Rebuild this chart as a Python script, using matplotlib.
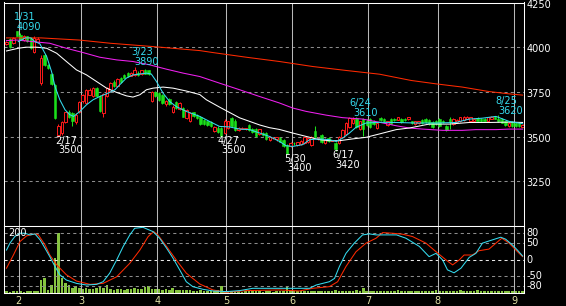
import matplotlib
matplotlib.use('Agg')
import matplotlib.pyplot as plt
import numpy as np
from matplotlib.transforms import blended_transform_factory

# ---------------- data (trading-day index 0 = 2022-01-26) ----------------
opens = [4020, 4045, 4025, 4090, 4070, 4040, 4060, 4050, 3975, 4030,
         3800, 3955, 3900, 3850, 3790, 3510, 3520, 3580, 3640, 3630,
         3580, 3635, 3700, 3690, 3735, 3725, 3770, 3725, 3630, 3725,
         3755, 3808, 3785, 3828, 3845, 3855, 3840, 3842, 3858, 3850,
         3872, 3870, 3700, 3750, 3745, 3730, 3680, 3710, 3640, 3695,
         3655, 3660, 3605, 3585, 3635, 3620, 3612, 3595, 3585, 3580,
         3530, 3550, 3548, 3522, 3550, 3605, 3590, 3535, 3545, 3545,
         3565, 3545, 3545, 3512, 3520, 3522, 3480, 3492, 3485, 3490,
         3483, 3455, 3445, 3465, 3455, 3460, 3462, 3470, 3455, 3530,
         3485, 3510, 3465, 3490, 3478, 3462, 3466, 3500, 3512, 3552,
         3575, 3605, 3540, 3600, 3590, 3600, 3590, 3550, 3605, 3600,
         3565, 3600, 3600, 3595, 3600, 3600, 3598, 3585, 3570, 3575,
         3592, 3598, 3595, 3580, 3590, 3600, 3590, 3560, 3600, 3570,
         3580, 3585, 3595, 3600, 3590, 3585, 3605, 3600, 3600, 3590,
         3600, 3612, 3600, 3600, 3585, 3560, 3580, 3578, 3575, 3555]
highs = [4035, 4050, 4055, 4090, 4080, 4070, 4065, 4055, 4060, 4055,
         3955, 3960, 3905, 3855, 3795, 3570, 3590, 3640, 3650, 3640,
         3630, 3700, 3740, 3765, 3770, 3775, 3780, 3730, 3745, 3775,
         3805, 3815, 3825, 3835, 3850, 3860, 3862, 3890, 3865, 3875,
         3878, 3875, 3755, 3755, 3750, 3740, 3705, 3715, 3675, 3700,
         3695, 3665, 3655, 3635, 3640, 3625, 3615, 3600, 3590, 3585,
         3560, 3560, 3555, 3600, 3590, 3610, 3600, 3555, 3555, 3550,
         3570, 3550, 3550, 3545, 3525, 3528, 3505, 3495, 3500, 3495,
         3485, 3460, 3470, 3470, 3470, 3480, 3500, 3495, 3505, 3560,
         3495, 3515, 3490, 3495, 3482, 3468, 3505, 3540, 3580, 3608,
         3610, 3608, 3590, 3605, 3600, 3605, 3595, 3580, 3610, 3605,
         3590, 3605, 3605, 3608, 3605, 3605, 3610, 3590, 3590, 3590,
         3598, 3602, 3600, 3585, 3595, 3605, 3595, 3565, 3612, 3605,
         3600, 3612, 3615, 3615, 3612, 3605, 3608, 3605, 3603, 3612,
         3615, 3615, 3620, 3605, 3590, 3582, 3585, 3580, 3578, 3568]
lows = [4010, 3995, 4020, 4060, 4040, 4035, 4030, 3990, 3970, 4025,
        3790, 3895, 3880, 3790, 3600, 3500, 3510, 3575, 3605, 3560,
        3570, 3630, 3690, 3685, 3730, 3720, 3720, 3640, 3610, 3720,
        3750, 3780, 3780, 3800, 3825, 3835, 3838, 3838, 3840, 3845,
        3848, 3845, 3695, 3720, 3700, 3680, 3670, 3675, 3630, 3655,
        3650, 3610, 3600, 3580, 3610, 3600, 3565, 3565, 3560, 3555,
        3525, 3520, 3500, 3515, 3545, 3555, 3530, 3530, 3540, 3538,
        3530, 3520, 3500, 3508, 3505, 3482, 3475, 3488, 3478, 3470,
        3440, 3400, 3440, 3455, 3450, 3455, 3458, 3465, 3450, 3495,
        3480, 3465, 3460, 3470, 3474, 3420, 3460, 3495, 3508, 3548,
        3570, 3548, 3535, 3505, 3560, 3550, 3565, 3545, 3590, 3580,
        3560, 3570, 3590, 3592, 3575, 3590, 3595, 3570, 3565, 3572,
        3570, 3575, 3565, 3550, 3565, 3555, 3575, 3530, 3545, 3565,
        3575, 3580, 3590, 3598, 3585, 3580, 3585, 3580, 3585, 3588,
        3598, 3598, 3580, 3575, 3560, 3555, 3555, 3555, 3555, 3552]
closes = [4028, 4000, 4050, 4065, 4045, 4065, 4035, 3995, 4050, 4045,
          3940, 3900, 3885, 3795, 3605, 3560, 3580, 3635, 3610, 3585,
          3620, 3695, 3735, 3760, 3760, 3770, 3725, 3645, 3740, 3770,
          3800, 3785, 3820, 3805, 3828, 3838, 3858, 3872, 3845, 3870,
          3850, 3848, 3750, 3725, 3705, 3690, 3700, 3680, 3665, 3660,
          3690, 3612, 3650, 3630, 3615, 3605, 3568, 3570, 3565, 3558,
          3555, 3525, 3505, 3585, 3585, 3560, 3535, 3550, 3548, 3547,
          3535, 3525, 3502, 3540, 3510, 3485, 3500, 3494, 3497, 3472,
          3446, 3405, 3465, 3462, 3468, 3475, 3495, 3490, 3500, 3500,
          3492, 3468, 3485, 3475, 3480, 3430, 3500, 3538, 3577, 3605,
          3600, 3552, 3585, 3545, 3565, 3555, 3570, 3578, 3595, 3585,
          3585, 3572, 3594, 3608, 3580, 3592, 3608, 3575, 3585, 3585,
          3575, 3580, 3570, 3555, 3570, 3558, 3580, 3535, 3580, 3600,
          3595, 3610, 3612, 3612, 3608, 3600, 3588, 3585, 3590, 3608,
          3612, 3600, 3585, 3578, 3565, 3578, 3560, 3558, 3560, 3565]
volume = [4, 3, 4, 5, 4, 3, 4, 6, 5, 4,
          38, 43, 8, 23, 104, 180, 43, 28, 22, 15, 20, 14,
          12, 13, 11, 12, 13, 16, 14,
          24,
          10, 9, 11, 10, 9, 10, 12, 13, 11, 10,
          17, 20,
          12, 10, 11, 9, 10, 9,
          15,
          9, 8, 9, 8, 7,
          6, 6, 7, 6, 5, 6, 6, 7,
          20,
          5, 4, 5, 4, 4, 3, 4, 4, 5, 4, 4, 3, 4, 4, 3, 4, 5, 6,
          18,
          5, 4, 4, 5, 4, 5, 4, 4, 5, 4, 4, 6, 5, 7, 5, 6, 5, 6, 5, 7, 6,
          14,
          5, 4, 5, 6, 4, 5, 4, 4, 5, 7, 4, 5, 4, 6, 5, 4, 5, 4, 5, 4,
          7, 5, 4, 6, 5, 4, 5, 7, 4, 5, 5, 4, 8, 5, 4, 5, 4, 6, 5, 4,
          5, 4, 5, 4, 4, 5]

# moving averages (index, value)
ma_short_x = [3.4, 5.4, 7, 8.2, 9.6, 11.6, 13, 14, 15.4, 16.9, 18.3, 19.4, 21.2, 23.1, 25,
              26.9, 29.8, 31.3, 32.7, 34.6, 36.5, 40.4, 41.8, 43.3, 45.2, 47.1, 49, 51.9,
              55.8, 58.6, 61.5, 64.4, 67.3, 70.2, 73.1, 75.9, 78.8, 80.7, 82.6, 85.5, 87.5,
              90.3, 93.2, 95.2, 97.1, 99, 100.9, 103.8, 107.7, 112.4, 118.2, 124, 129.7,
              133.6, 137.4, 141.3, 145.1, 149]
ma_short_v = [4031, 4052, 4052, 4031, 4020, 3948, 3864, 3780, 3706, 3650, 3622, 3613, 3641,
              3678, 3706, 3724, 3747, 3762, 3790, 3827, 3845, 3855, 3850, 3808, 3743, 3696,
              3668, 3641, 3613, 3585, 3557, 3554, 3542, 3539, 3520, 3501, 3473, 3449, 3445,
              3455, 3483, 3487, 3483, 3473, 3492, 3520, 3552, 3576, 3580, 3579, 3576, 3576,
              3579, 3598, 3603, 3613, 3585, 3572]
ma_mid_x = [0, 3.4, 5.6, 8.7, 11.6, 14.5, 17.3, 20.2, 23.1, 26, 28.9, 31.8, 34.6, 36.5, 38.5,
            40.4, 42.3, 45.2, 48.1, 51.9, 55.8, 57.7, 61.5, 64.4, 67.3, 70.2, 73.1, 75.9,
            78.8, 82.6, 86.5, 90.3, 93.2, 96.1, 99.9, 103.8, 107.7, 112.5, 116.3, 122, 127.8,
            133.6, 139.3, 145.1, 149]
ma_mid_v = [3979, 3994, 4000, 4000, 3994, 3966, 3920, 3873, 3845, 3808, 3771, 3747, 3728,
            3721, 3734, 3762, 3771, 3777, 3771, 3755, 3735, 3706, 3665, 3635, 3605, 3585,
            3565, 3550, 3540, 3520, 3501, 3483, 3477, 3477, 3487, 3496, 3515, 3539, 3548,
            3570, 3570, 3579, 3579, 3581, 3579]
ma_long_x = [0, 3, 7.7, 12.5, 17.3, 22.1, 26.9, 31.8, 36.5, 41.4, 46.2, 51, 55.8, 61.5, 67.3,
             73.1, 78.8, 82.6, 86.5, 92.3, 97, 102.8, 107.7, 112.4, 116.3, 120.1, 125.9,
             131.6, 135.5, 141.3, 145.1, 149]
ma_long_v = [4037, 4040, 4031, 4022, 3994, 3970, 3944, 3929, 3920, 3901, 3877, 3855, 3836,
             3799, 3762, 3724, 3688, 3660, 3641, 3620, 3606, 3598, 3580, 3561, 3548, 3542,
             3535, 3535, 3539, 3539, 3542, 3542]
ma_xlong_x = [0, 10, 21, 30, 42, 55.8, 59.6, 69.2, 78.8, 88.4, 98, 107.7, 116.8, 124, 131.6,
              139.3, 145.1, 149]
ma_xlong_v = [4052, 4052, 4040, 4022, 4004, 3981, 3970, 3944, 3920, 3892, 3870, 3849, 3814,
              3795, 3777, 3752, 3739, 3732]

# oscillators (RCI)
rci_fast_x = [0, 1, 2.4, 3.9, 5.3, 6.8, 8.2, 9.7, 11.1, 12.5, 14, 15.4, 17.3, 20.2, 23.1, 26,
              27.9, 29.8, 31.8, 33.7, 35.6, 37, 39.4, 42.3, 44.2, 46.2, 48.1, 50, 51.9, 53.8,
              56.7, 59.6, 63.4, 67.3, 71.1, 78.8, 87.5, 89.4, 93.2, 94.7, 96.1, 98, 100.4,
              102.8, 104.8, 106.7, 109.6, 112.6, 115.3, 119.2, 122, 124, 125.9, 127.3, 129.2,
              131.2, 133.6, 135.5, 137.4, 140.3, 142.7, 144.1, 146, 147.5, 149]
rci_fast_v = [29, 50, 70, 80, 80, 75, 78, 60, 35, 9, -21, -46, -62, -72, -77, -75, -67, -41,
              -1, 40, 75, 95, 98, 85, 65, 35, 4, -31, -67, -82, -90, -95, -97, -94, -87, -87,
              -87, -77, -67, -57, -21, 19, 50, 75, 78, 75, 75, 75, 65, 40, 9, 19, -1, -31,
              -40, -26, 7, 19, 50, 60, 68, 62, 45, 29, 11]
rci_slow_x = [0, 2, 3.9, 5.8, 8.2, 9.2, 11.1, 12.5, 14.5, 17.3, 20.2, 24.1, 27.9, 31.8, 35.6,
              38.5, 40.9, 42.5, 43.7, 46.2, 49, 51.9, 55.8, 59.6, 63.4, 69.2, 78.8, 84.6, 88.4,
              93.2, 95.6, 98, 100.9, 103.8, 106.7, 108.6, 111.5, 114.4, 117.2, 121.1, 124,
              126.9, 128.8, 130.7, 132.1, 134.5, 136.4, 139.3, 141.3, 143, 145.1, 148, 149]
rci_slow_v = [-26, 14, 55, 72, 78, 75, 45, 14, -16, -46, -65, -75, -72, -52, -11, 29, 70, 85,
              75, 40, -1, -41, -74, -92, -99, -94, -92, -95, -87, -82, -67, -21, 24, 50, 65,
              82, 80, 77, 70, 50, 24, -1, -16, -1, 14, 14, 27, 32, 50, 65, 50, 19, 9]

month_pos = [3.5, 21.5, 43.5, 63.5, 82.5, 104.5, 124.5, 146.5]
month_labels = ['2', '3', '4', '5', '6', '7', '8', '9']
price_ticks = [4250, 4000, 3750, 3500, 3250]
rci_ticks = [80, 50, 0, -50, -80]
vol_scale_label = '200'

high_marks = [3, 37, 100, 142]
high_dates = ['1/31', '3/23', '6/24', '8/25']
low_marks = [15, 62, 81, 95]
low_dates = ['2/17', '4/27', '5/30', '6/17']

# ---------------- styling ----------------
BG = 'black'
C_UP = '#ff1a1a'
C_DN = '#1be01b'
C_CYAN = '#35dcf0'
C_MAG = '#f020f0'
C_RED = '#ff2a00'
C_VOL = '#86c440'
C_GRID = '#8c8c8c'
C_MON = '#b8b8b8'
C_MONTXT = '#e2e2a6'
FS = 7
LW = 0.75

W, H = 566, 306
fig = plt.figure(figsize=(W / 100, H / 100), dpi=100, facecolor=BG)
L, R = 4, 524


def rect(top, bottom):
    return [L / W, 1 - bottom / H, (R - L) / W, (bottom - top) / H]


ax = fig.add_axes(rect(2.5, 226))
axv = fig.add_axes(rect(226, 292.6))
ax2 = fig.add_axes(rect(226, 292.6))

XL = (-0.72, 149.4)
for a in (ax, axv, ax2):
    a.set_xlim(*XL)
    a.set_xticks([])
    a.set_yticks([])
ax.set_facecolor(BG)
axv.set_facecolor(BG)
ax2.set_facecolor('none')
for s in axv.spines.values():
    s.set_visible(False)
for a in (ax, ax2):
    for s in a.spines.values():
        s.set_color('white')
        s.set_linewidth(LW)
        s.set_zorder(10)

ax.set_ylim(3000, 4250)
ax2.set_ylim(-100, 102)
axv.set_ylim(0, 202)

# grid + month lines
for v in price_ticks[1:]:
    ax.axhline(v, color=C_GRID, lw=LW, ls=(0, (3, 3)), zorder=1)
for v in rci_ticks:
    ax2.axhline(v, color=('#e8e8e8' if v == 0 else C_GRID), lw=LW, ls=(0, (3, 3)), zorder=1)
for m in month_pos:
    ax.axvline(m, color=C_MON, lw=LW, zorder=1)
    ax2.axvline(m, color=C_MON, lw=LW, zorder=1)

# candles
o = np.array(opens, float)
h = np.array(highs, float)
lo = np.array(lows, float)
c = np.array(closes, float)
x = np.arange(len(c))
up = c >= o
ax.vlines(x, lo, h, colors=np.where(up, C_UP, C_DN), lw=LW, zorder=3)
bb = np.minimum(o, c)
bh = np.maximum(np.abs(c - o), 2.5)
ax.bar(x[up], bh[up], bottom=bb[up], width=0.7, facecolor=BG, edgecolor=C_UP,
       lw=0.7, zorder=4)
ax.bar(x[~up], bh[~up], bottom=bb[~up], width=0.7, facecolor=C_DN, edgecolor=C_DN,
       lw=0.4, zorder=4)

# moving averages
ax.plot(ma_xlong_x, ma_xlong_v, color=C_RED, lw=LW, zorder=5)
ax.plot(ma_long_x, ma_long_v, color=C_MAG, lw=LW, zorder=5)
ax.plot(ma_mid_x, ma_mid_v, color='white', lw=LW, zorder=5)
ax.plot(ma_short_x, ma_short_v, color=C_CYAN, lw=LW, zorder=6)

# volume + oscillators
axv.bar(x, volume, width=0.75, color=C_VOL, zorder=1)
ax2.plot(rci_slow_x, rci_slow_v, color=C_RED, lw=LW, zorder=3)
ax2.plot(rci_fast_x, rci_fast_v, color=C_CYAN, lw=LW, zorder=4)

# high / low annotations
for i, d in zip(high_marks, high_dates):
    ax.annotate(f"{highs[i]}", xy=(i, highs[i]), xytext=(0, 1.0), textcoords='offset points',
                color=C_CYAN, fontsize=FS, ha='left', va='baseline', zorder=8)
    ax.annotate(d, xy=(i, highs[i]), xytext=(-2.4, 8.2), textcoords='offset points',
                color=C_CYAN, fontsize=FS, ha='left', va='baseline', zorder=8)
for i, d in zip(low_marks, low_dates):
    ax.annotate(d, xy=(i, lows[i]), xytext=(-2.4, -5.2), textcoords='offset points',
                color='white', fontsize=FS, ha='left', va='baseline', zorder=8)
    ax.annotate(f"{lows[i]}", xy=(i, lows[i]), xytext=(0, -12.0), textcoords='offset points',
                color='white', fontsize=FS, ha='left', va='baseline', zorder=8)

# axis labels
tr1 = blended_transform_factory(ax.transAxes, ax.transData)
for v in price_ticks:
    ax.annotate(str(v), xy=(1, v), xycoords=tr1, xytext=(1.6, -1.5), textcoords='offset points',
                color='white', fontsize=FS, ha='left', va='center', annotation_clip=False)
tr2 = blended_transform_factory(ax2.transAxes, ax2.transData)
for v in rci_ticks:
    ax2.annotate(str(v), xy=(1, v), xycoords=tr2, xytext=(1.6, 0), textcoords='offset points',
                 color='white', fontsize=FS, ha='left', va='center', annotation_clip=False)
tr3 = blended_transform_factory(ax2.transData, ax2.transAxes)
for m, lab in zip(month_pos, month_labels):
    ax2.annotate(lab, xy=(m, 0), xycoords=tr3, xytext=(0, -2.2), textcoords='offset points',
                 color=C_MONTXT, fontsize=FS, ha='center', va='top', annotation_clip=False)
ax2.annotate(vol_scale_label, xy=(0, 1), xycoords='axes fraction', xytext=(3.0, -1.2),
             textcoords='offset points', color='white', fontsize=FS, ha='left', va='top',
             zorder=8)

fig.savefig('out.png', dpi=100, facecolor=BG)
